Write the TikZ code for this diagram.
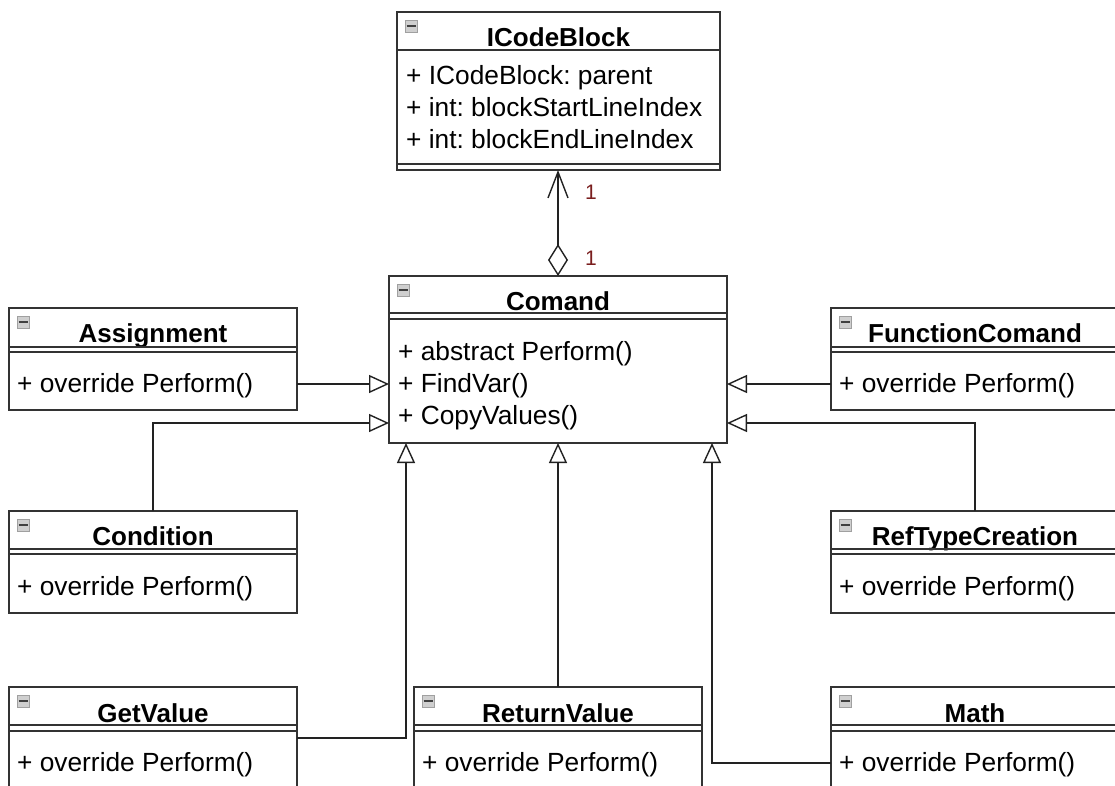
\documentclass[tikz,border=0pt]{standalone}
\usepackage{fontspec}
\setmainfont{Liberation Sans}
\usetikzlibrary{arrows.meta,calc}
\frenchspacing

\definecolor{edge}{HTML}{333333}
\definecolor{wire}{HTML}{222222}
\definecolor{mult}{HTML}{7A1E1E}
\definecolor{iconfill}{HTML}{CFCFCF}
\definecolor{iconline}{HTML}{A0A0A0}

\tikzset{
  classbox/.style={draw=edge, line width=1.8pt, fill=white, rectangle,
    anchor=north west, inner sep=0pt, outer sep=0pt},
  classtitle/.style={anchor=base, inner sep=0pt,
    font=\fontsize{26}{30}\selectfont\bfseries},
  member/.style={anchor=base west, inner sep=0pt,
    font=\fontsize{26.3}{30}\selectfont},
  sepline/.style={draw=edge, line width=1.6pt},
  link/.style={draw=wire, line width=1.4pt},
  inherit/.style={link, -{Triangle[open, length=20pt, width=18pt, line width=1.4pt, fill=white]}},
  multlabel/.style={text=mult, inner sep=0pt, font=\fontsize{21}{22}\selectfont},
}

% collapse glyph in the top-left corner of a class box
\newcommand{\collapseicon}[1]{%
  \fill[iconfill, draw=iconline, line width=0.8pt]
    ($(#1.north west)+(8,8)$) rectangle ($(#1.north west)+(20,20)$);
  \draw[black!75, line width=2pt]
    ($(#1.north west)+(9.5,14)$) -- ($(#1.north west)+(18.5,14)$);
}

% class box: name, x, y, width, height, title, title baseline offset, separator offsets
\newcommand{\umlclass}[8]{%
  \node[classbox, minimum width=#4pt, minimum height=#5pt] (#1) at (#2,#3) {};
  \collapseicon{#1}
  \node[classtitle] (#1-t) at ($(#1.north)+(0,#7)$) {#6};
  \foreach \s in {#8} {
    \draw[sepline] ($(#1.north west)+(0,\s)$) -- ($(#1.north east)+(0,\s)$);
  }
}

\begin{document}
\begin{tikzpicture}[x=1pt, y=-1pt]
\useasboundingbox (0,0) rectangle (1115,785);
\clip (0,0) rectangle (1115,785);
\fill[white] (0,0) rectangle (1115,785);

% ---------- classes ----------
\umlclass{icode}{397}{12}{323}{158}{ICodeBlock}{34}{38,152}
\node[member] (icode-a1) at ($(icode.north west)+(9,72)$) {+ ICodeBlock: parent};
\node[member] (icode-a2) at ($(icode.north west)+(9,104)$) {+ int: blockStartLineIndex};
\node[member] (icode-a3) at ($(icode.north west)+(9,136)$) {+ int: blockEndLineIndex};

\umlclass{comand}{389}{276}{338}{167}{Comand}{34}{37,43}
\node[member] (comand-m1) at ($(comand.north west)+(9,84)$) {+ abstract Perform()};
\node[member] (comand-m2) at ($(comand.north west)+(9,116)$) {+ FindVar()};
\node[member] (comand-m3) at ($(comand.north west)+(9,148)$) {+ CopyValues()};

\umlclass{assign}{9}{308}{288}{102}{Assignment}{34}{39,44}
\node[member] (assign-m) at ($(assign.north west)+(8,84)$) {+ override Perform()};

\umlclass{cond}{9}{511}{288}{102}{Condition}{34}{38,43}
\node[member] (cond-m) at ($(cond.north west)+(8,84)$) {+ override Perform()};

\umlclass{func}{831}{308}{288}{102}{FunctionComand}{34}{39,44}
\node[member] (func-m) at ($(func.north west)+(8,84)$) {+ override Perform()};

\umlclass{ref}{831}{511}{288}{102}{RefTypeCreation}{34}{38,43}
\node[member] (ref-m) at ($(ref.north west)+(8,84)$) {+ override Perform()};

\umlclass{getv}{9}{687}{288}{110}{GetValue}{35}{38,44}
\node[member] (getv-m) at ($(getv.north west)+(8,84)$) {+ override Perform()};

\umlclass{retv}{414}{687}{288}{110}{ReturnValue}{35}{38,44}
\node[member] (retv-m) at ($(retv.north west)+(8,84)$) {+ override Perform()};

\umlclass{math}{831}{687}{288}{110}{Math}{35}{38,44}
\node[member] (math-m) at ($(math.north west)+(8,84)$) {+ override Perform()};

% ---------- aggregation ----------
\draw[link, {Diamond[open, length=32pt, width=20pt, line width=1.4pt, fill=white]}-{Straight Barb[length=26pt, width=20pt, line width=1.4pt]}]
  (comand.north) -- (icode.south -| comand.north);
\node[multlabel] (m-top) at (591,192) {1};
\node[multlabel] (m-bot) at (591,258) {1};

% ---------- generalisations ----------
\draw[inherit] (assign.east |- 0,384) -- (comand.west |- 0,384);
\draw[inherit] (cond.north) |- (comand.west |- 0,423);
\draw[inherit] (func.west |- 0,384) -- (comand.east |- 0,384);
\draw[inherit] (ref.north) |- (comand.east |- 0,423);
\draw[inherit] (getv.east |- 0,738) -| (comand.south -| 406,0);
\draw[inherit] (retv.north) -- (comand.south -| retv.north);
\draw[inherit] (math.west |- 0,763) -| (comand.south -| 712,0);
\end{tikzpicture}
\end{document}
